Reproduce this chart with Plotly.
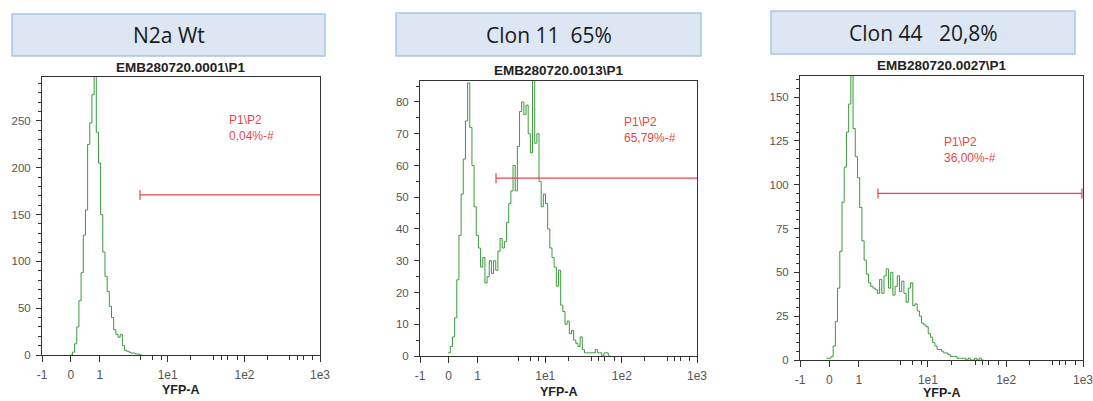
import numpy as np
import plotly.graph_objects as go

W, H = 1093, 401

# ---------------- data ----------------
HEADERS = ["N2a Wt", "Clon 11\u00a0 65%", "Clon 44\u00a0\u00a0 20,8%"]
TITLES = ["EMB280720.0001\\P1", "EMB280720.0013\\P1", "EMB280720.0027\\P1"]
X_TITLE = "YFP-A"
X_TICK_LABELS = ["-1", "0", "1", "1e1", "1e2", "1e3"]
X_TICK_CHANNELS = [0, 106, 213, 463, 746, 1024]   # display channels (0-1024, biexponential display)
Y_MAX = [297, 86.6, 162]
Y_MAJOR = [50, 10, 25]
Y_MINOR = [10, 5, 5]

GATE_NAME = "P1\\P2"
GATE_PCT = ["0,04%-#", "65,79%-#", "36,00%-#"]
GATE_START = [361, 281, 282]      # channel
GATE_END = [1024, 1024, 1020]     # channel
GATE_LEVEL = [171, 56, 95]        # count level where the gate is drawn

BIN_WIDTH = 8                     # channels per histogram bin
START_BIN = [13, 13, 12]

COUNTS_N2A = [0, 3, 12, 30, 58, 88, 128, 155, 225, 248, 278, 310, 238, 205, 150,
              110, 84, 68, 52, 40, 27, 22, 19, 22, 10, 5, 4, 3, 2, 2, 1, 1, 0]

COUNTS_CLON11 = [1, 3, 6, 12, 24, 38, 51, 62, 74, 86, 72, 60, 47, 38, 34, 28, 31, 23,
                 25, 30, 26, 30, 27, 33, 37, 34, 36, 42, 48, 52, 60, 52, 66, 77, 80, 76,
                 79, 70, 64, 95, 67, 70, 55, 47, 51, 48, 40, 34, 31, 28, 22, 27, 16, 14,
                 10, 11, 7, 8, 5, 4, 3, 6, 2, 1, 1, 1, 1, 1, 2, 1, 1, 0, 1, 1, 0]

COUNTS_CLON44 = [1, 1, 2, 8, 22, 41, 62, 90, 110, 130, 146, 165, 132, 116, 104, 87, 68,
                 57, 49, 44, 42, 41, 40, 38, 46, 38, 48, 52, 41, 50, 37, 42, 48, 39, 45,
                 38, 33, 41, 44, 31, 32, 28, 25, 21, 20, 19, 15, 13, 10, 8, 6, 6, 5, 4,
                 4, 3, 2, 2, 2, 1, 1, 1, 1, 0, 1, 0, 0, 1, 0, 1, 0]

SERIES = [COUNTS_N2A, COUNTS_CLON11, COUNTS_CLON44]

# ---------------- layout geometry (pixels) ----------------
PANELS = [dict(l=42, r=320, t=77, b=355),
          dict(l=420, r=697, t=81, b=356),
          dict(l=800, r=1083, t=76, b=360)]
BOXES = [dict(l=12, r=325, t=14, b=56),
         dict(l=396, r=701, t=13, b=56),
         dict(l=771, r=1075, t=11, b=54)]
TITLE_Y = [67, 70, 65]
XTITLE_Y = [390, 392, 393]
GATE_TXT = [(227, 128), (622, 130), (942, 150)]

GREEN = "#3d9a3d"
RED = "#e5484b"
AX = "#333333"
TICKTXT = "#555555"


def px(x):
    return x / W


def py(y):
    return 1 - y / H


def minor_ticks():
    vals = []
    spans = [(X_TICK_CHANNELS[2], X_TICK_CHANNELS[3], [4, 6, 8]),
             (X_TICK_CHANNELS[3], X_TICK_CHANNELS[4], [2, 4, 5, 6, 8]),
             (X_TICK_CHANNELS[4], X_TICK_CHANNELS[5], [2, 4, 5, 6, 8])]
    for lo, hi, ms in spans:
        for m in ms:
            vals.append(lo + np.log10(m) * (hi - lo))
    return vals


MINOR_X = minor_ticks()

fig = go.Figure()
shapes = []
annotations = []

for k in range(3):
    p = PANELS[k]
    xa = "x" if k == 0 else f"x{k+1}"
    ya = "y" if k == 0 else f"y{k+1}"
    counts = SERIES[k]
    edges = (START_BIN[k] + np.arange(len(counts) + 1)) * BIN_WIDTH
    ys = list(counts) + [counts[-1]]
    fig.add_trace(go.Scatter(x=edges, y=ys, mode="lines", line=dict(color=GREEN, width=1, shape="hv"),
                             xaxis=xa, yaxis=ya, showlegend=False, hoverinfo="skip"))

    axkey = "xaxis" if k == 0 else f"xaxis{k+1}"
    aykey = "yaxis" if k == 0 else f"yaxis{k+1}"
    fig.update_layout(**{
        axkey: dict(domain=[px(p["l"]), px(p["r"])], range=[0, 1024], anchor=ya,
                    automargin=False, ticklabeloverflow="allow",
                    tickmode="array", tickvals=X_TICK_CHANNELS, ticktext=X_TICK_LABELS,
                    ticks="outside", ticklen=6, tickwidth=1, tickcolor=AX,
                    showline=True, linecolor=AX, linewidth=1, mirror=True,
                    showgrid=False, zeroline=False, ticklabelstandoff=3,
                    tickfont=dict(family="Liberation Sans, Arial", size=12, color=TICKTXT),
                    minor=dict(tickmode="array", tickvals=MINOR_X, ticks="outside",
                               ticklen=4, tickwidth=1, tickcolor=AX, showgrid=False)),
        aykey: dict(domain=[py(p["b"]), py(p["t"])], range=[0, Y_MAX[k]], anchor=xa,
                    automargin=False, ticklabeloverflow="allow",
                    tick0=0, dtick=Y_MAJOR[k], ticks="outside", ticklen=5, tickwidth=1,
                    tickcolor=AX, showline=True, linecolor=AX, linewidth=1, mirror=True,
                    showgrid=False, zeroline=False, ticklabelstandoff=3,
                    tickfont=dict(family="Liberation Sans, Arial", size=11.5, color=TICKTXT),
                    minor=dict(dtick=Y_MINOR[k], ticks="outside", ticklen=3, tickwidth=1,
                               tickcolor=AX, showgrid=False)),
    })

    # gate
    shapes.append(dict(type="line", xref=xa, yref=ya, x0=GATE_START[k], x1=GATE_END[k],
                       y0=GATE_LEVEL[k], y1=GATE_LEVEL[k], line=dict(color=RED, width=1.2)))
    shapes.append(dict(type="line", xref=xa, yref=ya, ysizemode="pixel", yanchor=GATE_LEVEL[k],
                       x0=GATE_START[k], x1=GATE_START[k], y0=-5, y1=5,
                       line=dict(color=RED, width=1.2)))
    if GATE_END[k] < 1024:
        shapes.append(dict(type="line", xref=xa, yref=ya, ysizemode="pixel", yanchor=GATE_LEVEL[k],
                           x0=GATE_END[k], x1=GATE_END[k], y0=-5, y1=5,
                           line=dict(color=RED, width=1.2)))
    gx, gy = GATE_TXT[k]
    annotations.append(dict(x=px(gx), y=py(gy), xref="paper", yref="paper", xanchor="left",
                            yanchor="middle", align="left", showarrow=False,
                            text=GATE_NAME + "<br>" + GATE_PCT[k],
                            font=dict(family="Liberation Sans, Arial", size=12, color=RED)))

    # header box
    b = BOXES[k]
    shapes.append(dict(type="rect", xref="paper", yref="paper", x0=px(b["l"]), x1=px(b["r"]),
                       y0=py(b["b"]), y1=py(b["t"]), fillcolor="#dde7f3",
                       line=dict(color="#a7c6e6", width=1.5), layer="below"))
    annotations.append(dict(x=px((b["l"] + b["r"]) / 2), y=py((b["t"] + b["b"]) / 2),
                            xref="paper", yref="paper", xanchor="center", yanchor="middle",
                            showarrow=False, text=HEADERS[k],
                            font=dict(family="Open Sans", size=21, color="#1a1a1a")))
    # panel title
    annotations.append(dict(x=px((p["l"] + p["r"]) / 2), y=py(TITLE_Y[k]), xref="paper", yref="paper",
                            xanchor="center", yanchor="middle", showarrow=False,
                            text="<b>" + TITLES[k] + "</b>",
                            font=dict(family="Liberation Sans, Arial", size=13.5, color="#222222")))
    # x axis title
    annotations.append(dict(x=px((p["l"] + p["r"]) / 2), y=py(XTITLE_Y[k]), xref="paper", yref="paper",
                            xanchor="center", yanchor="middle", showarrow=False,
                            text="<b>" + X_TITLE + "</b>",
                            font=dict(family="Liberation Sans, Arial", size=12.5, color="#222222")))

fig.update_layout(template="none", width=W, height=H, margin=dict(l=0, r=0, t=0, b=0, autoexpand=False),
                  paper_bgcolor="white", plot_bgcolor="white",
                  shapes=shapes, annotations=annotations, showlegend=False)

fig.write_html("out.html", config={"displayModeBar": False, "staticPlot": True},
               post_script="document.body.style.margin='0';document.body.style.padding='0';"
                           "document.body.style.overflow='hidden';")
